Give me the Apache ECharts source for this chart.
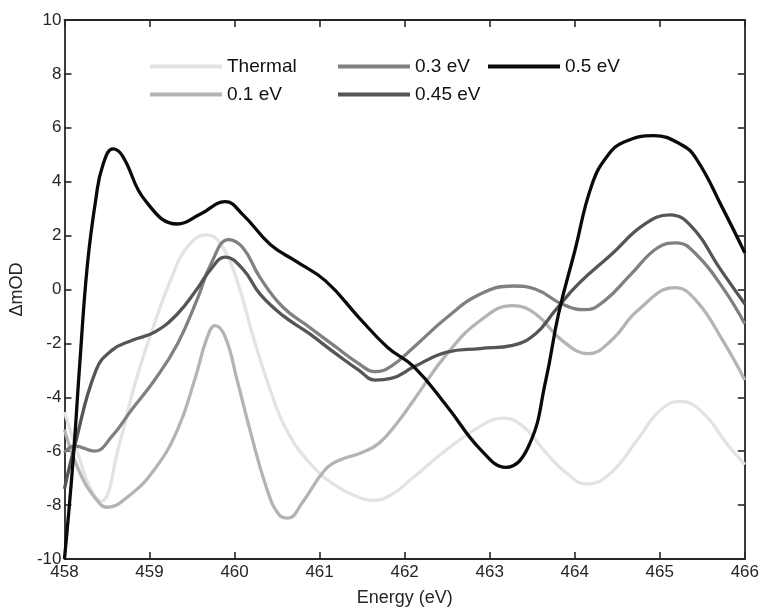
<!DOCTYPE html>
<html>
<head>
<meta charset="utf-8">
<script src="https://cdn.jsdelivr.net/npm/echarts@6/dist/echarts.min.js"></script>
<style>html,body{margin:0;padding:0;background:#fff}#c{width:762px;height:612px}</style>
</head>
<body>
<div id="c"></div>
<script>
var seriesNames = ['Thermal', '0.1 eV', '0.3 eV', '0.45 eV', '0.5 eV'];
var xTicks = [458, 459, 460, 461, 462, 463, 464, 465, 466];
var yTicks = [-10, -8, -6, -4, -2, 0, 2, 4, 6, 8, 10];

var thermalX = [458.0, 458.18, 458.3, 458.43, 458.64, 458.83, 459.03, 459.26, 459.45, 459.67, 459.84, 460.03, 460.22, 460.42, 460.61, 460.88, 461.19, 461.46, 461.62, 461.84, 462.11, 462.5, 462.89, 463.16, 463.39, 463.66, 463.9, 464.14, 464.43, 464.74, 465.0, 465.24, 465.51, 465.78, 466.0];
var thermalY = [-4.55, -6.3, -7.35, -7.85, -5.81, -3.48, -1.52, 0.44, 1.6, 2.03, 1.67, 0.32, -1.76, -3.73, -5.2, -6.42, -7.28, -7.71, -7.83, -7.62, -6.95, -5.93, -5.07, -4.77, -5.07, -6.05, -6.8, -7.22, -6.79, -5.56, -4.5, -4.15, -4.58, -5.69, -6.5];

var ev01X = [458.0, 458.18, 458.37, 458.5, 458.76, 459.06, 459.33, 459.53, 459.68, 459.77, 459.89, 460.03, 460.18, 460.38, 460.53, 460.63, 460.8, 461.07, 461.26, 461.5, 461.7, 461.9, 462.11, 462.5, 462.89, 463.27, 463.54, 463.85, 464.16, 464.43, 464.74, 465.18, 465.43, 465.74, 466.0];
var ev01Y = [-5.2, -6.79, -7.77, -8.08, -7.65, -6.67, -5.2, -3.36, -1.76, -1.34, -1.76, -3.36, -5.2, -7.4, -8.38, -8.48, -7.89, -6.67, -6.3, -6.05, -5.7, -5.0, -4.09, -2.38, -1.15, -0.6, -0.91, -1.89, -2.38, -1.89, -0.78, 0.07, -0.42, -1.89, -3.36];

var ev03X = [458.0, 458.12, 458.35, 458.56, 458.79, 459.06, 459.33, 459.57, 459.72, 459.93, 460.1, 460.3, 460.57, 460.88, 461.19, 461.46, 461.65, 461.84, 462.11, 462.5, 462.89, 463.27, 463.54, 463.85, 464.12, 464.35, 464.66, 464.97, 465.2, 465.43, 465.74, 466.0];
var ev03Y = [-6.05, -5.8, -6.0, -5.44, -4.46, -3.36, -2.01, -0.29, 0.93, 1.85, 1.54, 0.44, -0.66, -1.4, -2.13, -2.75, -3.05, -2.85, -2.13, -1.03, -0.17, 0.13, 0.01, -0.54, -0.75, -0.42, 0.56, 1.54, 1.73, 1.3, 0.07, -1.27];

var ev045X = [458.0, 458.12, 458.37, 458.56, 458.79, 459.06, 459.33, 459.57, 459.72, 459.89, 460.1, 460.3, 460.57, 460.88, 461.19, 461.46, 461.65, 461.84, 462.11, 462.5, 462.89, 463.27, 463.54, 463.77, 464.04, 464.43, 464.81, 465.12, 465.39, 465.7, 466.0];
var ev045Y = [-7.4, -5.8, -3.0, -2.25, -1.89, -1.58, -0.9, 0.07, 0.75, 1.2, 0.75, -0.17, -0.97, -1.64, -2.38, -2.99, -3.36, -3.3, -2.87, -2.32, -2.19, -2.07, -1.64, -0.78, 0.2, 1.3, 2.4, 2.77, 2.28, 0.81, -0.54];

var ev05X = [458.0, 458.1, 458.18, 458.27, 458.37, 458.45, 458.57, 458.68, 458.95, 459.33, 459.6, 459.89, 460.1, 460.42, 460.72, 461.07, 461.46, 461.8, 462.11, 462.5, 462.89, 463.19, 463.46, 463.66, 463.81, 464.0, 464.2, 464.39, 464.58, 464.93, 465.24, 465.43, 465.74, 466.0];
var ev05Y = [-10, -6.4, -2.75, 0.93, 3.38, 4.6, 5.22, 4.97, 3.3, 2.43, 2.8, 3.26, 2.77, 1.67, 1.05, 0.32, -1.03, -2.15, -2.87, -4.34, -5.93, -6.6, -5.8, -3.36, -0.9, 1.42, 3.87, 4.98, 5.47, 5.71, 5.4, 4.85, 3.01, 1.36];

var colors = ['#e3e3e3', '#b4b4b4', '#808080', '#555555', '#0a0a0a'];
var xs = [thermalX, ev01X, ev03X, ev045X, ev05X];
var ys = [thermalY, ev01Y, ev03Y, ev045Y, ev05Y];

function pairs(x, y) { return x.map(function (v, i) { return [v, y[i]]; }); }

var FONT = 'Liberation Sans, Arial, Helvetica, sans-serif';
var TXT = '#262626';

var series = seriesNames.map(function (n, i) {
  return {
    name: n, type: 'line', data: pairs(xs[i], ys[i]), smooth: 0.45,
    showSymbol: false, symbol: 'none', clip: true,
    lineStyle: { color: colors[i], width: 3.3 },
    itemStyle: { color: colors[i] },
    z: 2 + i
  };
});

var legendPos = [[150, 57], [150, 85], [338, 57], [338, 85], [488, 57]];
var legends = seriesNames.map(function (n, i) {
  return {
    data: [n], left: legendPos[i][0], top: legendPos[i][1], padding: 0,
    icon: 'rect', itemWidth: 72, itemHeight: 4,
    textStyle: { fontFamily: FONT, fontSize: 19, color: '#111' },
    selectedMode: false
  };
});

var axisLine = { show: true, onZero: false, lineStyle: { color: TXT, width: 1.8 } };
var tick = { show: true, inside: true, length: 7, lineStyle: { color: TXT, width: 1.6 } };

var option = {
  animation: false,
  backgroundColor: '#fff',
  grid: { left: 58, right: 13, top: 20, bottom: 48 },
  legend: legends,
  xAxis: [
    { type: 'value', min: 458, max: 466, interval: 1, position: 'bottom',
      axisLine: axisLine, axisTick: tick, splitLine: { show: false },
      axisLabel: { fontFamily: FONT, fontSize: 17, color: TXT, margin: 5 },
      name: 'Energy (eV)', nameLocation: 'middle', nameGap: 30,
      nameTextStyle: { fontFamily: FONT, fontSize: 18, color: TXT } },
    { type: 'value', min: 458, max: 466, interval: 1, position: 'top',
      axisLine: axisLine, axisTick: tick, splitLine: { show: false },
      axisLabel: { show: false } }
  ],
  yAxis: [
    { type: 'value', min: -10, max: 10, interval: 2, position: 'left',
      axisLine: axisLine, axisTick: tick, splitLine: { show: false },
      axisLabel: { fontFamily: FONT, fontSize: 17, color: TXT, margin: 3 },
      name: '\u0394mOD', nameLocation: 'middle', nameGap: 31,
      nameTextStyle: { fontFamily: FONT, fontSize: 18, color: TXT } },
    { type: 'value', min: -10, max: 10, interval: 2, position: 'right',
      axisLine: axisLine, axisTick: tick, splitLine: { show: false },
      axisLabel: { show: false } }
  ],
  series: series
};

var chart = echarts.init(document.getElementById('c'), null, { renderer: 'canvas' });
chart.setOption(option);
</script>
</body>
</html>
